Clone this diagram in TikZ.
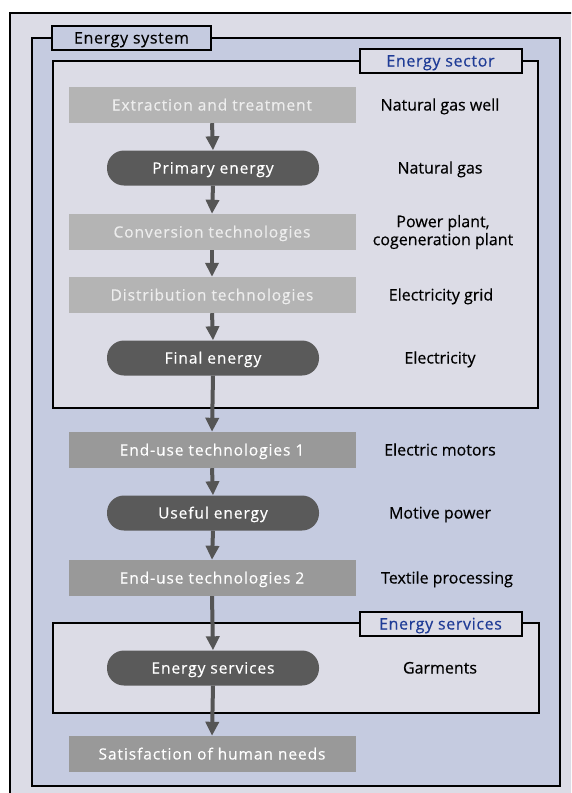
\documentclass[tikz,border=0pt]{standalone}
\usepackage{fontspec}
\setmainfont[FakeBold=0.4]{Open Sans}
\newfontfamily\boxfont[LetterSpace=6,FakeBold=0.4]{Open Sans}
\newfontfamily\labelfont[LetterSpace=4,FakeBold=0.4]{Open Sans}
\usetikzlibrary{positioning,arrows.meta}

\definecolor{outerbg}{HTML}{DCDCE6}
\definecolor{systembg}{HTML}{C5CBE0}
\definecolor{boxlight}{HTML}{B4B4B4}
\definecolor{boxdark}{HTML}{999999}
\definecolor{pillgrey}{HTML}{5A5A5A}
\definecolor{arrowgrey}{HTML}{555555}
\definecolor{titleblue}{HTML}{1F3C96}

\tikzset{
  frame/.style={draw=black,line width=2pt},
  capcentre/.style={text height=11pt,text depth=0pt},
  stagebox/.style={rectangle,minimum width=287pt,minimum height=36pt,inner sep=0pt,capcentre,
    text=white,font=\boxfont\fontsize{15.5}{18}\selectfont},
  stagelight/.style={stagebox,fill=boxlight,text=white!93!black},
  stagedark/.style={stagebox,fill=boxdark},
  energypill/.style={rectangle,rounded corners=17pt,minimum width=212pt,minimum height=35pt,
    inner sep=0pt,capcentre,fill=pillgrey,text=white,font=\boxfont\fontsize{15.5}{18}\selectfont},
  exampletext/.style={align=center,font=\fontsize{16}{18}\selectfont,text=black},
  example/.style={exampletext,capcentre},
  framelabel/.style={draw=black,line width=2pt,inner sep=0pt,minimum height=24pt,capcentre,
    font=\labelfont\fontsize{16}{18}\selectfont},
  flow/.style={draw=arrowgrey,line width=4pt,-{Triangle[length=14pt,width=13pt]}}
}

\begin{document}
\begin{tikzpicture}[x=1pt,y=-1pt]
\useasboundingbox (0,0) rectangle (571,793);
\clip (0,0) rectangle (571,793);
% frames
\path[frame,fill=outerbg] (10,13) rectangle (600,830);
\path[frame,fill=systembg] (32,38) rectangle (560,786);
\path[frame,fill=outerbg] (53,61) rectangle (538,408);
\path[frame,fill=outerbg] (53,623) rectangle (539,713);
\node[framelabel,fill=systembg,minimum width=159pt] (lsystem) at (131.5,38) {Energy system};
\node[framelabel,fill=outerbg,minimum width=162pt,text=titleblue] (lsector) at (440.5,61) {Energy sector};
\node[framelabel,fill=outerbg,minimum width=162pt,text=titleblue] (lservices) at (440.5,624) {Energy services};

% chain
\node[stagelight] (extract) at (212,105) {Extraction and treatment};
\node[energypill] (primary) at (213,168) {Primary energy};
\node[stagelight] (convert) at (212,232) {Conversion technologies};
\node[stagelight] (distrib) at (212,295) {Distribution technologies};
\node[energypill] (final) at (213,358) {Final energy};
\node[stagedark] (enduse1) at (212,450) {End-use technologies 1};
\node[energypill] (useful) at (213,513) {Useful energy};
\node[stagedark] (enduse2) at (212,578) {End-use technologies 2};
\node[energypill] (services) at (213,668) {Energy services};
\node[stagedark] (needs) at (212,754) {Satisfaction of human needs};

% examples
\node[example] (gaswell) at (440,105) {Natural gas well};
\node[example] (gas) at (440,168) {Natural gas};
\node[exampletext] (plant) at (443,232) {Power plant,\\cogeneration plant};
\node[example] (grid) at (441,295) {Electricity grid};
\node[example] (electricity) at (440,358) {Electricity};
\node[example] (motors) at (440,450) {Electric motors};
\node[example] (motive) at (440,513) {Motive power};
\node[example] (textile) at (447,578) {Textile processing};
\node[example] (garments) at (440,668) {Garments};

% arrows
\foreach \a/\b in {extract/primary,primary/convert,convert/distrib,distrib/final,
  final/enduse1,enduse1/useful,useful/enduse2,enduse2/services,services/needs}
  \draw[flow] (\a.south) -- (\b.north);
\end{tikzpicture}
\end{document}
